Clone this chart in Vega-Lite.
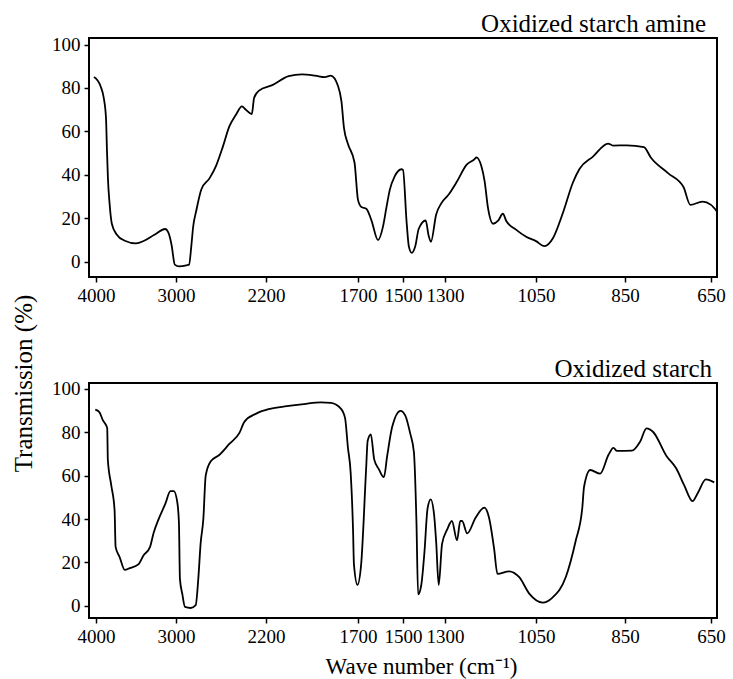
{
  "$schema": "https://vega.github.io/schema/vega-lite/v6.json",
  "background": "white",
  "padding": {"left": 10, "top": 10, "right": 5, "bottom": 5},
  "bounds": "flush",
  "spacing": 106,
  "datasets": {
    "amine": [
      {"wave": 4025, "T": 85.0}, {"wave": 3943, "T": 80.8}, {"wave": 3903, "T": 75.4}, {"wave": 3875, "T": 66.2},
      {"wave": 3863, "T": 51.4}, {"wave": 3851, "T": 38.5}, {"wave": 3830, "T": 26.7}, {"wave": 3802, "T": 17.5},
      {"wave": 3742, "T": 12.6}, {"wave": 3640, "T": 9.7}, {"wave": 3500, "T": 8.5}, {"wave": 3398, "T": 9.7},
      {"wave": 3276, "T": 12.3}, {"wave": 3136, "T": 15.1}, {"wave": 3095, "T": 13.4}, {"wave": 3055, "T": 7.7},
      {"wave": 3015, "T": -1.3}, {"wave": 2972, "T": -2.1}, {"wave": 2907, "T": -1.6}, {"wave": 2884, "T": -1.3},
      {"wave": 2863, "T": 7.7}, {"wave": 2848, "T": 15.9}, {"wave": 2819, "T": 23.7}, {"wave": 2775, "T": 33.3},
      {"wave": 2701, "T": 38.5}, {"wave": 2643, "T": 44.3}, {"wave": 2584, "T": 52.9}, {"wave": 2526, "T": 62.3},
      {"wave": 2467, "T": 67.7}, {"wave": 2414, "T": 71.5}, {"wave": 2379, "T": 70.0}, {"wave": 2326, "T": 68.0},
      {"wave": 2306, "T": 75.4}, {"wave": 2262, "T": 78.8}, {"wave": 2166, "T": 81.3}, {"wave": 2077, "T": 85.5},
      {"wave": 2005, "T": 86.3}, {"wave": 1933, "T": 85.7}, {"wave": 1880, "T": 85.0}, {"wave": 1848, "T": 85.7},
      {"wave": 1808, "T": 80.8}, {"wave": 1790, "T": 73.8}, {"wave": 1776, "T": 61.5}, {"wave": 1755, "T": 54.3},
      {"wave": 1719, "T": 45.7}, {"wave": 1700, "T": 28.5}, {"wave": 1685, "T": 25.2}, {"wave": 1663, "T": 24.4},
      {"wave": 1641, "T": 19.3}, {"wave": 1611, "T": 10.0}, {"wave": 1589, "T": 16.2}, {"wave": 1574, "T": 24.8},
      {"wave": 1559, "T": 33.0}, {"wave": 1537, "T": 39.3}, {"wave": 1507, "T": 42.6}, {"wave": 1500, "T": 42.3},
      {"wave": 1483, "T": 18.5}, {"wave": 1472, "T": 7.0}, {"wave": 1458, "T": 4.1}, {"wave": 1442, "T": 7.0},
      {"wave": 1425, "T": 15.2}, {"wave": 1392, "T": 19.0}, {"wave": 1378, "T": 12.1}, {"wave": 1367, "T": 9.2},
      {"wave": 1342, "T": 21.8}, {"wave": 1317, "T": 27.0}, {"wave": 1291, "T": 30.7}, {"wave": 1268, "T": 36.7},
      {"wave": 1241, "T": 44.6}, {"wave": 1218, "T": 47.4}, {"wave": 1214, "T": 48.1}, {"wave": 1200, "T": 44.0},
      {"wave": 1191, "T": 36.9}, {"wave": 1182, "T": 24.9}, {"wave": 1168, "T": 17.5}, {"wave": 1154, "T": 18.9},
      {"wave": 1141, "T": 22.1}, {"wave": 1132, "T": 18.9}, {"wave": 1105, "T": 14.8}, {"wave": 1077, "T": 11.5},
      {"wave": 1050, "T": 9.5}, {"wave": 1031, "T": 7.2}, {"wave": 1012, "T": 10.8}, {"wave": 990, "T": 22.2},
      {"wave": 967, "T": 36.5}, {"wave": 952, "T": 42.8}, {"wave": 922, "T": 48.4}, {"wave": 888, "T": 54.4},
      {"wave": 877, "T": 53.5}, {"wave": 846, "T": 53.6}, {"wave": 806, "T": 52.8}, {"wave": 790, "T": 48.0},
      {"wave": 750, "T": 40.8}, {"wave": 714, "T": 34.4}, {"wave": 698, "T": 26.2}, {"wave": 670, "T": 27.7},
      {"wave": 650, "T": 26.2}, {"wave": 638, "T": 23.4}
    ],
    "starch": [
      {"wave": 4009, "T": 90.4}, {"wave": 3958, "T": 89.3}, {"wave": 3915, "T": 85.6}, {"wave": 3860, "T": 81.9},
      {"wave": 3852, "T": 67.3}, {"wave": 3810, "T": 55.7}, {"wave": 3768, "T": 44.3}, {"wave": 3755, "T": 27.2},
      {"wave": 3704, "T": 22.4}, {"wave": 3641, "T": 16.6}, {"wave": 3577, "T": 17.4}, {"wave": 3471, "T": 19.1},
      {"wave": 3407, "T": 23.2}, {"wave": 3324, "T": 27.2}, {"wave": 3280, "T": 33.6}, {"wave": 3217, "T": 40.0},
      {"wave": 3133, "T": 47.1}, {"wave": 3070, "T": 52.9}, {"wave": 3027, "T": 52.9}, {"wave": 2989, "T": 47.9},
      {"wave": 2974, "T": 38.4}, {"wave": 2965, "T": 12.3}, {"wave": 2944, "T": 5.5}, {"wave": 2920, "T": -0.5},
      {"wave": 2870, "T": -1.0}, {"wave": 2825, "T": 0.3}, {"wave": 2802, "T": 12.3}, {"wave": 2781, "T": 28.8},
      {"wave": 2757, "T": 40.0}, {"wave": 2736, "T": 60.0}, {"wave": 2691, "T": 66.6}, {"wave": 2616, "T": 69.5},
      {"wave": 2526, "T": 74.6}, {"wave": 2436, "T": 79.7}, {"wave": 2391, "T": 84.9}, {"wave": 2287, "T": 88.6},
      {"wave": 2178, "T": 90.8}, {"wave": 2087, "T": 92.0}, {"wave": 1994, "T": 93.0}, {"wave": 1902, "T": 93.8},
      {"wave": 1847, "T": 93.5}, {"wave": 1792, "T": 90.8}, {"wave": 1770, "T": 86.4}, {"wave": 1755, "T": 73.1},
      {"wave": 1740, "T": 61.5}, {"wave": 1727, "T": 35.2}, {"wave": 1722, "T": 19.1}, {"wave": 1703, "T": 9.7},
      {"wave": 1686, "T": 19.1}, {"wave": 1664, "T": 62.9}, {"wave": 1657, "T": 76.1}, {"wave": 1643, "T": 79.0},
      {"wave": 1628, "T": 67.5}, {"wave": 1607, "T": 62.9}, {"wave": 1585, "T": 59.3}, {"wave": 1570, "T": 69.3},
      {"wave": 1548, "T": 82.5}, {"wave": 1511, "T": 89.9}, {"wave": 1489, "T": 87.7}, {"wave": 1466, "T": 79.6},
      {"wave": 1448, "T": 70.8}, {"wave": 1436, "T": 38.9}, {"wave": 1428, "T": 5.3}, {"wave": 1413, "T": 9.6},
      {"wave": 1398, "T": 24.6}, {"wave": 1383, "T": 44.9}, {"wave": 1368, "T": 49.1}, {"wave": 1352, "T": 42.0},
      {"wave": 1342, "T": 29.4}, {"wave": 1330, "T": 9.6}, {"wave": 1314, "T": 28.6}, {"wave": 1294, "T": 35.2},
      {"wave": 1281, "T": 39.1}, {"wave": 1267, "T": 30.2}, {"wave": 1258, "T": 39.1}, {"wave": 1253, "T": 39.1},
      {"wave": 1239, "T": 33.4}, {"wave": 1216, "T": 40.6}, {"wave": 1192, "T": 45.3}, {"wave": 1179, "T": 40.6},
      {"wave": 1165, "T": 26.2}, {"wave": 1156, "T": 14.7}, {"wave": 1124, "T": 15.9}, {"wave": 1096, "T": 13.2},
      {"wave": 1068, "T": 5.5}, {"wave": 1035, "T": 1.5}, {"wave": 1013, "T": 3.8}, {"wave": 983, "T": 13.3},
      {"wave": 961, "T": 29.8}, {"wave": 946, "T": 45.1}, {"wave": 942, "T": 54.9}, {"wave": 928, "T": 62.6},
      {"wave": 906, "T": 60.9}, {"wave": 887, "T": 69.6}, {"wave": 876, "T": 72.8}, {"wave": 868, "T": 71.4},
      {"wave": 834, "T": 71.5}, {"wave": 815, "T": 75.6}, {"wave": 800, "T": 81.8}, {"wave": 784, "T": 80.0},
      {"wave": 754, "T": 69.2}, {"wave": 731, "T": 63.4}, {"wave": 712, "T": 55.4}, {"wave": 693, "T": 48.3},
      {"wave": 681, "T": 51.9}, {"wave": 662, "T": 58.3}, {"wave": 643, "T": 56.9}
    ]
  },
  "vconcat": [
    {
      "data": {"name": "amine"},
      "width": 628,
      "height": 239,
      "title": {"text": "Oxidized starch amine", "anchor": "end", "frame": "group", "dx": -11, "offset": -1},
      "mark": {"type": "line", "color": "black", "strokeWidth": 1.8, "interpolate": "monotone"},
      "encoding": {
        "x": {
          "field": "wave", "type": "quantitative",
          "scale": {"domain": [4087, 4000, 3000, 2200, 1700, 1500, 1300, 1050, 850, 650, 637], "range": [0, 7, 87, 177, 269, 314, 356, 447, 536, 622, 628], "nice": false, "zero": false},
          "axis": {"values": [4000, 3000, 2200, 1700, 1500, 1300, 1050, 850, 650], "format": "d", "title": null}
        },
        "y": {
          "field": "T", "type": "quantitative",
          "scale": {"domain": [-7, 103], "nice": false, "zero": false},
          "axis": {"values": [0, 20, 40, 60, 80, 100], "title": "Transmission (%)", "titleAngle": -90, "titleX": -66, "titleY": 345, "titleAlign": "center", "titleBaseline": "middle", "titleFontSize": 25}
        }
      }
    },
    {
      "data": {"name": "starch"},
      "width": 628,
      "height": 235,
      "title": {"text": "Oxidized starch", "anchor": "end", "frame": "group", "dx": -5, "offset": -2},
      "mark": {"type": "line", "color": "black", "strokeWidth": 1.8, "interpolate": "monotone"},
      "encoding": {
        "x": {
          "field": "wave", "type": "quantitative",
          "scale": {"domain": [4087, 4000, 3000, 2200, 1700, 1500, 1300, 1050, 850, 650, 637], "range": [0, 7, 87, 177, 269, 314, 356, 447, 536, 622, 628], "nice": false, "zero": false},
          "axis": {"values": [4000, 3000, 2200, 1700, 1500, 1300, 1050, 850, 650], "format": "d", "title": "Wave number (cm⁻¹)", "titleX": 332, "titleY": 55, "titleAlign": "center", "titleBaseline": "alphabetic", "titleFontSize": 23}
        },
        "y": {
          "field": "T", "type": "quantitative",
          "scale": {"domain": [-5.6, 102.7], "nice": false, "zero": false},
          "axis": {"values": [0, 20, 40, 60, 80, 100], "title": null}
        }
      }
    }
  ],
  "config": {
    "font": "Liberation Serif",
    "view": {"stroke": "black", "strokeWidth": 2},
    "axis": {
      "labelFont": "Liberation Serif", "labelFontSize": 19, "labelColor": "black",
      "tickColor": "black", "tickSize": 5, "tickWidth": 1.5, "labelPadding": 4,
      "domain": false, "grid": false, "labelOverlap": false, "labelFlush": false,
      "titleFont": "Liberation Serif", "titleFontWeight": "normal", "titleColor": "black"
    },
    "title": {"font": "Liberation Serif", "fontSize": 25, "fontWeight": "normal", "color": "black"}
  }
}
